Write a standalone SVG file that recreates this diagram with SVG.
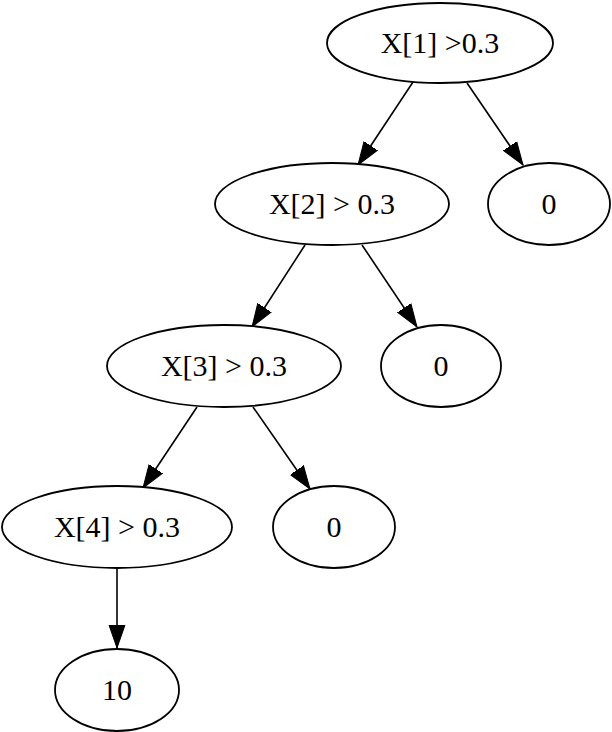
<svg xmlns="http://www.w3.org/2000/svg" width="612" height="732" viewBox="0 0 612 732">
<style>
.n ellipse{fill:#fff;stroke:#000;stroke-width:1.8}
.n text{font-family:"Liberation Serif","Times New Roman",serif;font-size:30px;text-anchor:middle;fill:#000}
.e line{stroke:#000;stroke-width:1.6;marker-end:url(#ah)}
</style>
<defs>
<marker id="ah" markerUnits="userSpaceOnUse" markerWidth="24" markerHeight="18" refX="23" refY="9" orient="auto">
<path d="M0,1 L23,9 L0,17 z" fill="#000" stroke="#000" stroke-width="1"/>
</marker>
</defs>
<rect width="612" height="732" fill="#fff"/>
<g id="edges" class="e">
<line x1="413" y1="82" x2="358" y2="165"/>
<line x1="467" y1="83" x2="523" y2="165"/>
<line x1="305" y1="245" x2="252" y2="327"/>
<line x1="362" y1="245" x2="417" y2="327"/>
<line x1="197" y1="407" x2="143" y2="488"/>
<line x1="253" y1="407" x2="310" y2="489"/>
<line x1="117" y1="568" x2="117" y2="648"/>
</g>
<g id="n1" class="n"><ellipse cx="440" cy="43" rx="113" ry="40"/><text x="440" y="53">X[1] &gt;0.3</text></g>
<g id="n0a" class="n"><ellipse cx="549" cy="204" rx="61" ry="41"/><text x="549" y="214">0</text></g>
<g id="n2" class="n"><ellipse cx="332" cy="204" rx="117" ry="41"/><text x="332" y="214">X[2] &gt; 0.3</text></g>
<g id="n0b" class="n"><ellipse cx="441" cy="366" rx="60" ry="41"/><text x="441" y="376">0</text></g>
<g id="n3" class="n"><ellipse cx="224" cy="366" rx="117" ry="41"/><text x="224" y="376">X[3] &gt; 0.3</text></g>
<g id="n0c" class="n"><ellipse cx="334" cy="527" rx="61" ry="41"/><text x="334" y="537">0</text></g>
<g id="n4" class="n"><ellipse cx="117" cy="527" rx="115" ry="41"/><text x="117" y="537">X[4] &gt; 0.3</text></g>
<g id="n10" class="n"><ellipse cx="117" cy="690" rx="62" ry="41"/><text x="117" y="700">10</text></g>
</svg>
